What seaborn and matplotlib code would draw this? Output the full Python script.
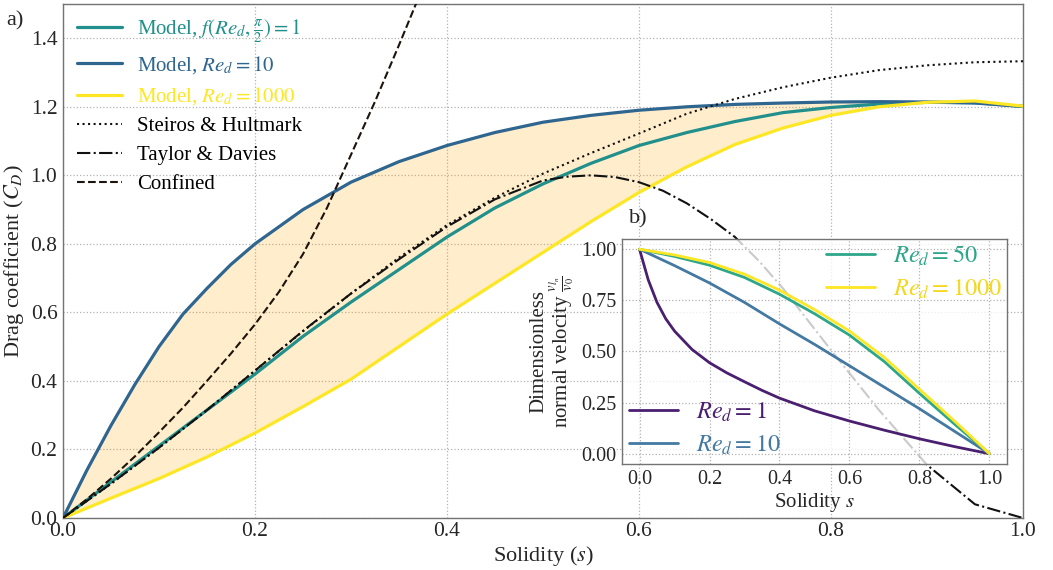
import matplotlib
matplotlib.use("Agg")
import matplotlib.pyplot as plt
import seaborn as sns

# ---- main panel data ----
s_re10 = [0, 0.025, 0.05, 0.075, 0.1, 0.125, 0.15, 0.175, 0.2, 0.25, 0.3, 0.35, 0.4,
          0.45, 0.5, 0.55, 0.6, 0.65, 0.7, 0.75, 0.8, 0.85, 0.9, 0.95, 1.0]
cd_re10 = [0, 0.14, 0.27, 0.39, 0.50, 0.595, 0.67, 0.74, 0.80, 0.90, 0.98, 1.04, 1.087,
           1.125, 1.155, 1.175, 1.19, 1.20, 1.207, 1.211, 1.214, 1.215, 1.214, 1.211, 1.201]

s_main = [0, 0.05, 0.1, 0.15, 0.2, 0.25, 0.3, 0.35, 0.4, 0.45, 0.5,
          0.55, 0.6, 0.65, 0.7, 0.75, 0.8, 0.85, 0.9, 0.95, 1.0]
cd_f1 = [0, 0.105, 0.21, 0.315, 0.42, 0.53, 0.63, 0.725, 0.82, 0.905, 0.975,
         1.035, 1.087, 1.125, 1.157, 1.183, 1.198, 1.208, 1.213, 1.212, 1.201]
cd_re1000 = [0, 0.058, 0.115, 0.178, 0.248, 0.325, 0.405, 0.50, 0.595, 0.685, 0.775,
             0.865, 0.95, 1.025, 1.09, 1.138, 1.175, 1.20, 1.213, 1.217, 1.202]
cd_steiros = [0, 0.10, 0.205, 0.315, 0.43, 0.545, 0.655, 0.76, 0.855, 0.935, 1.005,
              1.065, 1.122, 1.18, 1.223, 1.257, 1.285, 1.307, 1.321, 1.33, 1.333]

s_taylor = [0, 0.05, 0.1, 0.15, 0.2, 0.25, 0.3, 0.35, 0.4, 0.45, 0.5, 0.525, 0.55,
            0.575, 0.6, 0.625, 0.65, 0.675, 0.7, 0.725, 0.75, 0.775, 0.8, 0.85,
            0.9, 0.95, 1.0]
cd_taylor = [0, 0.10, 0.205, 0.315, 0.43, 0.546, 0.655, 0.755, 0.85, 0.93, 0.985,
             0.996, 1.0, 0.995, 0.98, 0.955, 0.918, 0.872, 0.82, 0.75, 0.67, 0.58,
             0.49, 0.315, 0.155, 0.04, 0]

s_confined = [0, 0.025, 0.05, 0.075, 0.1, 0.125, 0.15, 0.175, 0.2, 0.225, 0.25,
              0.275, 0.3, 0.325, 0.35, 0.375]
cd_confined = [0, 0.055, 0.115, 0.18, 0.25, 0.322, 0.40, 0.48, 0.565, 0.66, 0.77,
               0.905, 1.06, 1.215, 1.38, 1.55]

# ---- inset data ----
s_in_re1 = [0, 0.025, 0.05, 0.075, 0.1, 0.15, 0.2, 0.25, 0.3, 0.35, 0.4,
            0.5, 0.6, 0.7, 0.8, 0.9, 1.0]
v_re1 = [1.0, 0.85, 0.74, 0.66, 0.60, 0.51, 0.445, 0.395, 0.352, 0.31, 0.272,
         0.21, 0.16, 0.115, 0.073, 0.035, 0]

s_in = [0, 0.1, 0.2, 0.3, 0.4, 0.5, 0.6, 0.7, 0.8, 0.9, 1.0]
v_re10 = [1.0, 0.92, 0.835, 0.74, 0.635, 0.535, 0.43, 0.325, 0.22, 0.11, 0]
v_re50 = [1.0, 0.965, 0.922, 0.862, 0.78, 0.685, 0.58, 0.45, 0.295, 0.145, 0]
v_re1000 = [1.0, 0.972, 0.935, 0.878, 0.80, 0.705, 0.60, 0.47, 0.315, 0.16, 0]

C_F1 = "#21908c"
C_RE10 = "#2f6690"
C_RE1000 = "#fde725"


def style_axes(ax):
    for sp in ax.spines.values():
        sp.set_color("0.45")
        sp.set_linewidth(1.0)
    ax.grid(True, linestyle=":", color="0.7", linewidth=0.9)
    ax.tick_params(length=0)


def main():
    sns.set_theme(style="whitegrid")
    plt.rcParams["font.family"] = ["Liberation Serif", "DejaVu Serif"]
    plt.rcParams["mathtext.fontset"] = "stix"

    fig = plt.figure(figsize=(10.53, 5.70), dpi=100)
    ax = fig.add_axes([0.0598, 0.0912, 0.9117, 0.9018])
    style_axes(ax)

    # shaded band between Re_d = 10 and Re_d = 1000
    ax.fill(s_re10 + s_main[::-1], cd_re10 + cd_re1000[::-1],
            color="orange", alpha=0.2, lw=0, zorder=1)

    sns.lineplot(x=s_main, y=cd_f1, ax=ax, color=C_F1, lw=2.3,
                 label=r"Model, $f(Re_d,\frac{\pi}{2})=1$", zorder=3)
    sns.lineplot(x=s_re10, y=cd_re10, ax=ax, color=C_RE10, lw=2.3,
                 label=r"Model, $Re_d=10$", zorder=3)
    sns.lineplot(x=s_main, y=cd_re1000, ax=ax, color=C_RE1000, lw=2.3,
                 label=r"Model, $Re_d=1000$", zorder=3)
    sns.lineplot(x=s_main, y=cd_steiros, ax=ax, color="#111111", lw=1.5,
                 linestyle=":", label="Steiros & Hultmark", zorder=4)
    sns.lineplot(x=s_taylor, y=cd_taylor, ax=ax, color="#111111", lw=1.5,
                 linestyle="-.", label="Taylor & Davies", zorder=4)
    sns.lineplot(x=s_confined, y=cd_confined, ax=ax, color="#1c140c", lw=1.5,
                 linestyle="--", label="Confined", zorder=4)

    ax.set_xlim(0, 1)
    ax.set_ylim(0, 1.5)
    ax.set_xticks([0, 0.2, 0.4, 0.6, 0.8, 1.0])
    ax.set_yticks([0, 0.2, 0.4, 0.6, 0.8, 1.0, 1.2, 1.4])
    ax.tick_params(axis="x", labelsize=15.5, pad=3)
    ax.tick_params(axis="y", labelsize=15.5, pad=4)
    ax.set_xlabel("Solidity ($s$)", fontsize=16, labelpad=2)
    ax.set_ylabel("Drag coefficient ($C_D$)", fontsize=16, labelpad=3)

    leg = ax.legend(loc="upper left", frameon=False, fontsize=15,
                    handlelength=2.2, handletextpad=0.7, labelspacing=0.45,
                    borderaxespad=0.25)
    for txt, col in zip(leg.get_texts(),
                        [C_F1, C_RE10, C_RE1000, "black", "black", "black"]):
        txt.set_color(col)

    fig.text(0.006, 0.955, "a)", fontsize=16)
    fig.text(0.597, 0.608, "b)", fontsize=16)

    # ---- inset ----
    axi = fig.add_axes([0.5907, 0.186, 0.3656, 0.3947])
    axi.patch.set_facecolor("white")
    axi.patch.set_alpha(0.78)
    style_axes(axi)

    sns.lineplot(x=s_in_re1, y=v_re1, ax=axi, color="#4a1f70", lw=2.0, label=r"$Re_d=1$")
    sns.lineplot(x=s_in, y=v_re10, ax=axi, color="#4479a2", lw=2.0, label=r"$Re_d=10$")
    sns.lineplot(x=s_in, y=v_re50, ax=axi, color="#2ea68a", lw=2.0, label=r"$Re_d=50$")
    sns.lineplot(x=s_in, y=v_re1000, ax=axi, color="#fde725", lw=2.0, label=r"$Re_d=1000$")

    axi.set_xlim(-0.05, 1.05)
    axi.set_ylim(-0.05, 1.05)
    axi.set_xticks([0, 0.2, 0.4, 0.6, 0.8, 1.0])
    axi.set_yticks([0, 0.25, 0.5, 0.75, 1.0])
    axi.set_yticklabels(["0.00", "0.25", "0.50", "0.75", "1.00"])
    axi.tick_params(labelsize=14.5, pad=4)
    axi.set_xlabel("Solidity $s$", fontsize=15, labelpad=2)
    axi.set_ylabel("Dimensionless\n" + r"normal velocity $\frac{v_{l_n}}{v_0}$",
                   fontsize=15, labelpad=3, linespacing=0.95)

    handles, labels = axi.get_legend_handles_labels()
    cols = ["#4a1f70", "#4479a2", "#2ea68a", "#f2d820"]
    leg_lo = axi.legend(handles[:2], labels[:2], loc="lower left", frameon=False,
                        fontsize=17.5, handlelength=2.0, handletextpad=0.75,
                        labelspacing=0.4, borderaxespad=0.0, borderpad=0.3)
    for txt, col in zip(leg_lo.get_texts(), cols[:2]):
        txt.set_color(col)
    axi.add_artist(leg_lo)
    leg_hi = axi.legend(handles[2:], labels[2:], loc="upper right", frameon=False,
                        fontsize=17.5, handlelength=2.0, handletextpad=0.75,
                        labelspacing=0.4, borderaxespad=0.0, borderpad=0.2)
    for txt, col in zip(leg_hi.get_texts(), cols[2:]):
        txt.set_color(col)

    fig.savefig("out.png", dpi=100)


if __name__ == "__main__":
    main()
